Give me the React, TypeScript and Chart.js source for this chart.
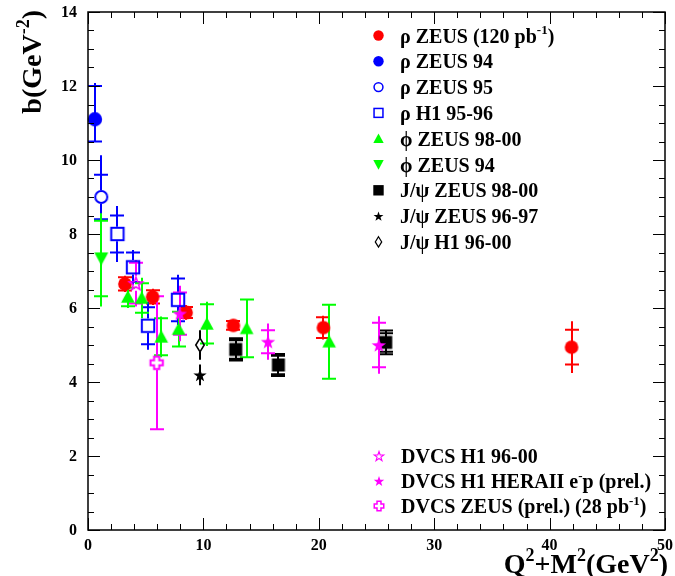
import { useEffect, useRef } from 'react';
import { Chart, registerables } from 'chart.js';

Chart.register(...registerables);

const FONT = '"Liberation Serif", "Times New Roman", Times, serif';

// ---- axis ticks ----
const xTickValues = [0, 10, 20, 30, 40, 50];
const xTickLabels = ['0', '10', '20', '30', '40', '50'];
const yTickValues = [0, 2, 4, 6, 8, 10, 12, 14];
const yTickLabels = ['0', '2', '4', '6', '8', '10', '12', '14'];
const xTitle = 'Q^{2}+M^{2}(GeV^{2})';
const yTitle = 'b(GeV^{-2})';

// ---- data (x = Q2+M2, y = b, stat / total errors; [down, up] for asymmetric) ----
const rhoZeus120X = [3.2, 5.6, 8.5, 12.6, 20.4, 41.9];
const rhoZeus120Y = [6.65, 6.3, 5.88, 5.53, 5.47, 4.94];
const rhoZeus120Stat = [0.18, 0.18, 0.15, 0.12, 0.28, 0.47];
const rhoZeus120Tot = [0.22, 0.22, 0.2, 0.15, 0.32, 0.7];

const rhoZeus94X = [0.6];
const rhoZeus94Y = [11.1];
const rhoZeus94Stat: (number | number[])[] = [[0.6, 0.9]];
const rhoZeus94Tot: (number | number[])[] = [[0.6, 0.98]];

const rhoZeus95X = [1.15];
const rhoZeus95Y = [9.0];
const rhoZeus95Stat = [0.6];
const rhoZeus95Tot: (number | number[])[] = [[0.8, 1.13]];

const rhoH1X = [2.55, 3.9, 5.2, 7.8];
const rhoH1Y = [8.0, 7.1, 5.52, 6.22];
const rhoH1Stat = [0.5, 0.4, 0.5, 0.58];
const rhoH1Tot = [0.76, 0.47, 0.65, 0.68];

const phiZeus98X = [3.45, 4.65, 6.35, 7.85, 10.3, 13.75, 20.9];
const phiZeus98Y = [6.3, 6.27, 5.22, 5.43, 5.57, 5.45, 5.09];
const phiZeus98Stat = [0.25, 0.4, 0.5, 0.47, 0.53, 0.78, 1.0];
const phiZeus98Tot = [0.3, 0.55, 0.55, 0.5, 0.6, 0.78, 1.0];

const phiZeus94X = [1.15];
const phiZeus94Y = [7.34];
const phiZeus94Stat = [1.02];
const phiZeus94Tot: (number | number[])[] = [[1.3, 1.22]];

const jpsiZeus98X = [12.8, 16.5, 25.8];
const jpsiZeus98Y = [4.88, 4.46, 5.07];
const jpsiZeus98Stat = [0.25, 0.25, 0.25];
const jpsiZeus98Tot = [0.3, 0.3, 0.32];

const jpsiZeus96X = [9.7];
const jpsiZeus96Y = [4.19];
const jpsiZeus96Stat = [0];
const jpsiZeus96Tot = [0.28];

const jpsiH1X = [9.7];
const jpsiH1Y = [5.0];
const jpsiH1Stat = [0];
const jpsiH1Tot = [0.4];

const dvcsH1X = [4.15];
const dvcsH1Y = [6.67];
const dvcsH1Stat = [0.55];
const dvcsH1Tot = [0.63];

const dvcsHera2X = [7.95, 15.6, 25.2];
const dvcsHera2Y = [5.85, 5.09, 5.0];
const dvcsHera2Stat = [0.57, 0.31, 0.6];
const dvcsHera2Tot = [0.75, 0.49, 0.78];

const dvcsZeusX = [5.95];
const dvcsZeusY = [4.52];
const dvcsZeusStat = [1.8];
const dvcsZeusTot = [1.8];

const RED = '#ff0000';
const BLUE = '#0000ff';
const GREEN = '#00ff00';
const BLACK = '#000000';
const MAGENTA = '#ff00ff';

type Kind = 'fcircle' | 'ocircle' | 'osquare' | 'fsquare' | 'utri' | 'dtri' | 'fstar' | 'ostar' | 'odiamond' | 'ocross';

interface Series {
  label: string;
  x: number[];
  y: number[];
  stat: (number | number[])[];
  tot: (number | number[])[];
  kind: Kind;
  color: string;
  size: number;
  group: 0 | 1;
  capTot?: boolean;
}

const series: Series[] = [
  { label: 'ρ ZEUS (120 pb^{-1})', x: rhoZeus120X, y: rhoZeus120Y, stat: rhoZeus120Stat, tot: rhoZeus120Tot, kind: 'fcircle', color: RED, size: 6.8, group: 0 },
  { label: 'ρ ZEUS 94', x: rhoZeus94X, y: rhoZeus94Y, stat: rhoZeus94Stat, tot: rhoZeus94Tot, kind: 'fcircle', color: BLUE, size: 7.2, group: 0 },
  { label: 'ρ ZEUS 95', x: rhoZeus95X, y: rhoZeus95Y, stat: rhoZeus95Stat, tot: rhoZeus95Tot, kind: 'ocircle', color: BLUE, size: 7, group: 0 },
  { label: 'ρ H1 95-96', x: rhoH1X, y: rhoH1Y, stat: rhoH1Stat, tot: rhoH1Tot, kind: 'osquare', color: BLUE, size: 7.2, group: 0 },
  { label: 'ϕ ZEUS 98-00', x: phiZeus98X, y: phiZeus98Y, stat: phiZeus98Stat, tot: phiZeus98Tot, kind: 'utri', color: GREEN, size: 6.8, group: 0 },
  { label: 'ϕ ZEUS 94', x: phiZeus94X, y: phiZeus94Y, stat: phiZeus94Stat, tot: phiZeus94Tot, kind: 'dtri', color: GREEN, size: 7, group: 0 },
  { label: 'J/ψ ZEUS 98-00', x: jpsiZeus98X, y: jpsiZeus98Y, stat: jpsiZeus98Stat, tot: jpsiZeus98Tot, kind: 'fsquare', color: BLACK, size: 6.5, group: 0, capTot: true },
  { label: 'J/ψ ZEUS 96-97', x: jpsiZeus96X, y: jpsiZeus96Y, stat: jpsiZeus96Stat, tot: jpsiZeus96Tot, kind: 'fstar', color: BLACK, size: 7, group: 0 },
  { label: 'J/ψ H1 96-00', x: jpsiH1X, y: jpsiH1Y, stat: jpsiH1Stat, tot: jpsiH1Tot, kind: 'odiamond', color: BLACK, size: 6.8, group: 0 },
  { label: 'DVCS H1 96-00', x: dvcsH1X, y: dvcsH1Y, stat: dvcsH1Stat, tot: dvcsH1Tot, kind: 'ostar', color: MAGENTA, size: 7.5, group: 1 },
  { label: 'DVCS H1 HERAII e^{-}p (prel.)', x: dvcsHera2X, y: dvcsHera2Y, stat: dvcsHera2Stat, tot: dvcsHera2Tot, kind: 'fstar', color: MAGENTA, size: 7.5, group: 1 },
  { label: 'DVCS ZEUS (prel.) (28 pb^{-1})', x: dvcsZeusX, y: dvcsZeusY, stat: dvcsZeusStat, tot: dvcsZeusTot, kind: 'ocross', color: MAGENTA, size: 7.2, group: 1 },
];

const OPEN: Kind[] = ['ocircle', 'osquare', 'ostar', 'odiamond', 'ocross'];

function starPath(ctx: CanvasRenderingContext2D, x: number, y: number, R: number) {
  const r = R * 0.4;
  ctx.beginPath();
  for (let i = 0; i < 10; i++) {
    const a = -Math.PI / 2 + (i * Math.PI) / 5;
    const rr = i % 2 === 0 ? R : r;
    const px = x + Math.cos(a) * rr;
    const py = y + Math.sin(a) * rr;
    if (i === 0) ctx.moveTo(px, py);
    else ctx.lineTo(px, py);
  }
  ctx.closePath();
}

function drawMarker(ctx: CanvasRenderingContext2D, kind: Kind, x: number, y: number, s: number, color: string, lw = 2) {
  ctx.save();
  ctx.fillStyle = color;
  ctx.strokeStyle = color;
  ctx.lineWidth = lw;
  ctx.lineJoin = 'miter';
  switch (kind) {
    case 'fcircle':
      ctx.beginPath();
      ctx.arc(x, y, s, 0, Math.PI * 2);
      ctx.fill();
      break;
    case 'ocircle':
      ctx.beginPath();
      ctx.arc(x, y, s - lw / 2, 0, Math.PI * 2);
      ctx.stroke();
      break;
    case 'osquare':
      ctx.strokeRect(x - s + lw / 2, y - s + lw / 2, 2 * s - lw, 2 * s - lw);
      break;
    case 'fsquare':
      ctx.fillRect(x - s, y - s, 2 * s, 2 * s);
      break;
    case 'utri':
      ctx.beginPath();
      ctx.moveTo(x, y - s);
      ctx.lineTo(x + s, y + s * 0.85);
      ctx.lineTo(x - s, y + s * 0.85);
      ctx.closePath();
      ctx.fill();
      break;
    case 'dtri':
      ctx.beginPath();
      ctx.moveTo(x, y + s);
      ctx.lineTo(x + s, y - s * 0.85);
      ctx.lineTo(x - s, y - s * 0.85);
      ctx.closePath();
      ctx.fill();
      break;
    case 'fstar':
      starPath(ctx, x, y + s * 0.1, s);
      ctx.fill();
      break;
    case 'ostar':
      ctx.lineWidth = lw * 0.75;
      starPath(ctx, x, y + s * 0.1, s - 0.5);
      ctx.stroke();
      break;
    case 'odiamond':
      ctx.lineWidth = lw * 0.8;
      ctx.beginPath();
      ctx.moveTo(x, y - s);
      ctx.lineTo(x + s * 0.62, y);
      ctx.lineTo(x, y + s);
      ctx.lineTo(x - s * 0.62, y);
      ctx.closePath();
      ctx.stroke();
      break;
    case 'ocross': {
      const a = s * 0.36;
      const e = s - lw / 2;
      ctx.beginPath();
      ctx.moveTo(x - a, y - e);
      ctx.lineTo(x + a, y - e);
      ctx.lineTo(x + a, y - a);
      ctx.lineTo(x + e, y - a);
      ctx.lineTo(x + e, y + a);
      ctx.lineTo(x + a, y + a);
      ctx.lineTo(x + a, y + e);
      ctx.lineTo(x - a, y + e);
      ctx.lineTo(x - a, y + a);
      ctx.lineTo(x - e, y + a);
      ctx.lineTo(x - e, y - a);
      ctx.lineTo(x - a, y - a);
      ctx.closePath();
      ctx.stroke();
      break;
    }
  }
  ctx.restore();
}

function markerImage(kind: Kind, s: number, color: string): HTMLCanvasElement {
  const n = Math.ceil(s + 3) * 2;
  const c = document.createElement('canvas');
  c.width = n;
  c.height = n;
  const ctx = c.getContext('2d')!;
  drawMarker(ctx, kind, n / 2, n / 2, s, color);
  return c;
}

// rich text with ^{...} superscripts
function parseRich(t: string) {
  const parts: { t: string; sup: boolean }[] = [];
  const re = /\^\{([^}]*)\}/g;
  let last = 0;
  let m: RegExpExecArray | null;
  while ((m = re.exec(t))) {
    if (m.index > last) parts.push({ t: t.slice(last, m.index), sup: false });
    parts.push({ t: m[1], sup: true });
    last = m.index + m[0].length;
  }
  if (last < t.length) parts.push({ t: t.slice(last), sup: false });
  return parts;
}

function richWidth(ctx: CanvasRenderingContext2D, t: string, size: number) {
  let w = 0;
  for (const p of parseRich(t)) {
    ctx.font = `bold ${p.sup ? Math.round(size * 0.65) : size}px ${FONT}`;
    w += ctx.measureText(p.t).width;
  }
  return w;
}

function drawRich(ctx: CanvasRenderingContext2D, t: string, x: number, y: number, size: number, align: 'left' | 'right' = 'left') {
  let cx = align === 'right' ? x - richWidth(ctx, t, size) : x;
  ctx.save();
  ctx.textAlign = 'left';
  ctx.textBaseline = 'alphabetic';
  ctx.fillStyle = '#000';
  for (const p of parseRich(t)) {
    const fs = p.sup ? Math.round(size * 0.65) : size;
    ctx.font = `bold ${fs}px ${FONT}`;
    ctx.fillText(p.t, cx, p.sup ? y - size * 0.42 : y);
    cx += ctx.measureText(p.t).width;
  }
  ctx.restore();
}

function errPair(e: number | number[]): [number, number] {
  return Array.isArray(e) ? [e[0], e[1]] : [e, e];
}

const errorBarPlugin = {
  id: 'errorBars',
  beforeDatasetsDraw(chart: any) {
    const ctx: CanvasRenderingContext2D = chart.ctx;
    const yScale = chart.scales.y;
    const area = chart.chartArea;
    ctx.save();
    ctx.beginPath();
    ctx.rect(area.left, area.top, area.right - area.left, area.bottom - area.top);
    ctx.clip();
    series.forEach((s, di) => {
      const meta = chart.getDatasetMeta(di);
      ctx.strokeStyle = s.color;
      ctx.lineWidth = 2;
      const gap = OPEN.includes(s.kind) ? s.size : 0;
      meta.data.forEach((pt: any, i: number) => {
        const px = Math.round(pt.x);
        const py = pt.y;
        const [tDn, tUp] = errPair(s.tot[i]);
        const [sDn, sUp] = errPair(s.stat[i]);
        const yTop = yScale.getPixelForValue(s.y[i] + tUp);
        const yBot = yScale.getPixelForValue(s.y[i] - tDn);
        ctx.beginPath();
        if (yTop < py - gap) {
          ctx.moveTo(px, yTop);
          ctx.lineTo(px, py - gap);
        }
        if (yBot > py + gap) {
          ctx.moveTo(px, py + gap);
          ctx.lineTo(px, yBot);
        }
        const caps: number[] = [];
        if (sUp > 0) caps.push(yScale.getPixelForValue(s.y[i] + sUp));
        if (sDn > 0) caps.push(yScale.getPixelForValue(s.y[i] - sDn));
        if (s.capTot) caps.push(yTop, yBot);
        for (const cy of caps) {
          ctx.moveTo(px - 7, cy);
          ctx.lineTo(px + 7, cy);
        }
        ctx.stroke();
      });
    });
    ctx.restore();
  },
};

const framePlugin = {
  id: 'rootFrame',
  afterDraw(chart: any) {
    const ctx: CanvasRenderingContext2D = chart.ctx;
    const xs = chart.scales.x;
    const ys = chart.scales.y;
    const a = chart.chartArea;
    ctx.save();
    ctx.strokeStyle = '#000';
    ctx.lineWidth = 1;
    ctx.beginPath();
    // x ticks (bottom & top)
    for (let v = 0; v <= 50; v += 2) {
      const px = Math.round(xs.getPixelForValue(v)) + 0.5;
      const len = v % 10 === 0 ? 12 : 6;
      ctx.moveTo(px, a.bottom);
      ctx.lineTo(px, a.bottom - len);
      ctx.moveTo(px, a.top);
      ctx.lineTo(px, a.top + len);
    }
    // y ticks (left & right)
    for (let k = 0; k <= 28; k++) {
      const v = k * 0.5;
      const py = Math.round(ys.getPixelForValue(v)) + 0.5;
      const len = k % 4 === 0 ? 12 : 6;
      ctx.moveTo(a.left, py);
      ctx.lineTo(a.left + len, py);
      ctx.moveTo(a.right, py);
      ctx.lineTo(a.right - len, py);
    }
    ctx.stroke();
    ctx.lineWidth = 1.5;
    ctx.strokeRect(a.left, a.top, a.right - a.left, a.bottom - a.top);

    // tick labels
    ctx.fillStyle = '#000';
    ctx.font = `bold 16px ${FONT}`;
    ctx.textAlign = 'right';
    ctx.textBaseline = 'middle';
    yTickValues.forEach((v, i) => {
      ctx.fillText(yTickLabels[i], a.left - 11, ys.getPixelForValue(v) + 1);
    });
    ctx.textAlign = 'center';
    ctx.textBaseline = 'top';
    xTickValues.forEach((v, i) => {
      ctx.fillText(xTickLabels[i], xs.getPixelForValue(v), a.bottom + 8);
    });

    // axis titles
    drawRich(ctx, xTitle, 668, 573, 28, 'right');
    ctx.save();
    ctx.translate(41, 10);
    ctx.rotate(-Math.PI / 2);
    drawRich(ctx, yTitle, 0, 0, 28, 'right');
    ctx.restore();

    // legend
    const top = series.filter((s) => s.group === 0);
    const bottom = series.filter((s) => s.group === 1);
    top.forEach((s, i) => {
      const cy = 35.5 + i * 25.8;
      drawMarker(ctx, s.kind, 378.5, cy, 5.2, s.color, 1.5);
      drawRich(ctx, s.label, 400, cy + 7, 20, 'left');
    });
    bottom.forEach((s, i) => {
      const cy = 456 + i * 25;
      drawMarker(ctx, s.kind, 379, cy, 5.5, s.color, 1.5);
      drawRich(ctx, s.label, 401, cy + 7, 20, 'left');
    });
    ctx.restore();
  },
};

export default function App() {
  const ref = useRef<HTMLCanvasElement>(null);
  useEffect(() => {
    const n = series.length;
    const datasets = series.map((s, i) => ({
      label: s.label,
      data: s.x.map((x, j) => ({ x, y: s.y[j] })),
      pointStyle: markerImage(s.kind, s.size, s.color),
      pointRadius: s.size,
      showLine: false,
      order: n - i,
      clip: false as any,
    }));
    const chart = new Chart(ref.current!, {
      type: 'scatter',
      data: { datasets },
      options: {
        animation: false,
        responsive: false,
        devicePixelRatio: 1,
        events: [],
        layout: { padding: { left: 88, top: 12, right: 10, bottom: 46 } },
        plugins: { legend: { display: false }, tooltip: { enabled: false } },
        scales: {
          x: { type: 'linear', min: 0, max: 50, display: false },
          y: { type: 'linear', min: 0, max: 14, display: false },
        },
      },
      plugins: [errorBarPlugin, framePlugin],
    });
    return () => chart.destroy();
  }, []);
  return (
    <div style={{ position: 'fixed', left: 0, top: 0, width: 675, height: 576, background: '#fff' }}>
      <canvas ref={ref} width={675} height={576} style={{ display: 'block', width: 675, height: 576 }} />
    </div>
  );
}
